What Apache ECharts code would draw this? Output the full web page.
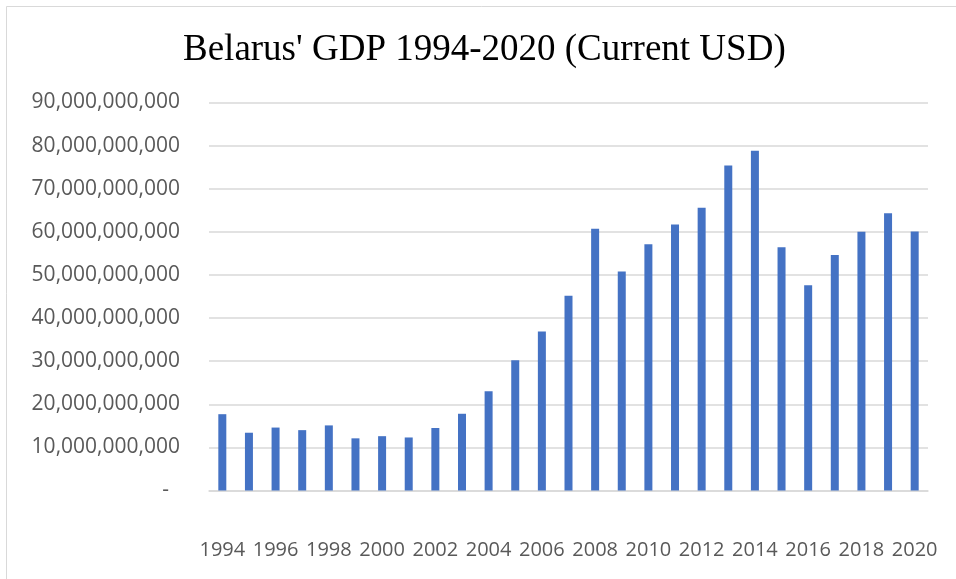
<!DOCTYPE html>
<html>
<head>
<meta charset="utf-8">
<script src="https://cdn.jsdelivr.net/npm/echarts@6/dist/echarts.min.js"></script>
<style>
  html, body { margin: 0; padding: 0; background: #ffffff; }
  #chart { width: 956px; height: 579px; }
</style>
</head>
<body>
<div id="chart"></div>
<script>
// Belarus GDP, current US dollars, 1994-2020
const years = ['1994','1995','1996','1997','1998','1999','2000','2001','2002','2003',
               '2004','2005','2006','2007','2008','2009','2010','2011','2012','2013',
               '2014','2015','2016','2017','2018','2019','2020'];
const gdpUsd = [17.7e9, 13.4e9, 14.6e9, 14.0e9, 15.1e9, 12.1e9, 12.6e9, 12.3e9, 14.5e9, 17.8e9,
                23.0e9, 30.2e9, 36.9e9, 45.2e9, 60.7e9, 50.8e9, 57.1e9, 61.7e9, 65.6e9, 75.4e9,
                78.8e9, 56.4e9, 47.6e9, 54.6e9, 60.0e9, 64.3e9, 60.1e9];
const yMin = 0;
const yMax = 90e9;
const yStep = 10e9;

const chart = echarts.init(document.getElementById('chart'), null, { renderer: 'canvas' });

const labelFont = '"Open Sans", "Noto Sans", sans-serif';

chart.setOption({
  animation: false,
  backgroundColor: '#ffffff',
  title: {
    text: "Belarus' GDP 1994-2020 (Current USD)",
    left: 178,
    top: 27,
    textStyle: {
      fontFamily: '"Liberation Serif", "Times New Roman", serif',
      fontSize: 37,
      fontWeight: 'normal',
      color: '#000000'
    }
  },
  graphic: [{
    type: 'rect',
    shape: { x: 6.5, y: 6.5, width: 1200, height: 1200 },
    style: { fill: 'none', stroke: '#d9d9d9', lineWidth: 1 },
    silent: true
  }],
  grid: { left: 209, right: 28, top: 102.5, bottom: 88.5 },
  xAxis: {
    type: 'category',
    data: years,
    axisLine: { show: true, lineStyle: { color: '#d9d9d9', width: 1.5 } },
    axisTick: { show: false },
    axisLabel: {
      interval: 1,
      margin: 50,
      fontFamily: labelFont,
      fontSize: 20,
      color: '#595959'
    }
  },
  yAxis: {
    type: 'value',
    min: yMin,
    max: yMax,
    interval: yStep,
    axisLine: { show: false },
    axisTick: { show: false },
    splitLine: { lineStyle: { color: '#d9d9d9', width: 1.5 } },
    axisLabel: {
      margin: 29,
      fontFamily: labelFont,
      fontSize: 21,
      color: '#595959',
      formatter: function (v) {
        if (v === 0) return '{z|-}';
        return v.toLocaleString('en-US');
      },
      rich: {
        z: { fontFamily: labelFont, fontSize: 21, color: '#595959', padding: [0, 11, 0, 0] }
      }
    }
  },
  series: [{
    type: 'bar',
    data: gdpUsd,
    barWidth: 8,
    itemStyle: { color: '#4472c4' }
  }]
});
</script>
</body>
</html>
